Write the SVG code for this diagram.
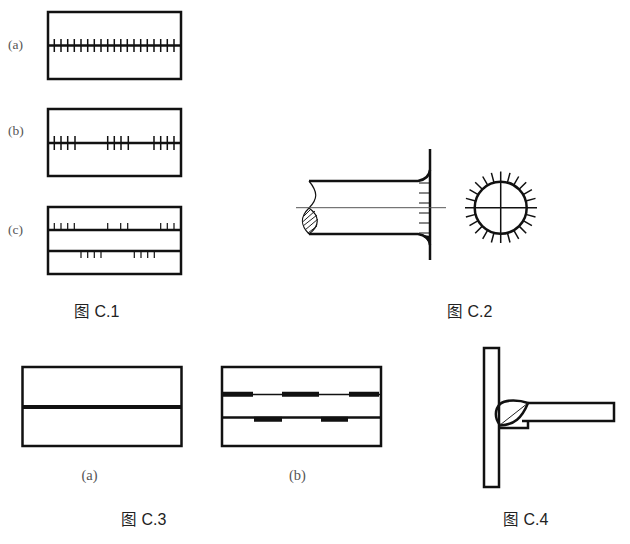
<svg xmlns="http://www.w3.org/2000/svg" width="630" height="544" viewBox="0 0 630 544">
<defs>
<style>
.o{fill:none;stroke:#111;stroke-width:2.500}
.k{fill:none;stroke:#111;stroke-width:1.200}
.t{fill:none;stroke:#222;stroke-width:1}
.m{fill:none;stroke:#111;stroke-width:1.500}
.lab{font-family:"Liberation Serif",serif;font-size:13.500px;fill:#555}
.lab2{font-family:"Liberation Serif",serif;font-size:14.500px;fill:#555}
.cap{font-family:"Noto Sans CJK SC","Liberation Sans",sans-serif;font-size:15.500px;fill:#222}
.num{font-family:"Liberation Sans",sans-serif;font-size:16px;fill:#222}
</style>
<path id="spokes" class="m" d="M25.100 6.700L34.800 9.300M22.500 13L31.200 18M18.400 18.400L25.500 25.500M13 22.500L18 31.200M6.700 25.100L9.300 34.800"/>
</defs>
<rect width="630" height="544" fill="#fff"/>

<g id="fig-c1-a">
<text class="lab" x="8" y="49">(a)</text>
<rect class="o" x="48" y="12" width="133" height="67"/>
<path class="o" d="M48 45.500H181"/>
<path class="m" d="M54.300 39V52M61 39V52M67.700 39V52M74.300 39V52M81 39V52M87.700 39V52M94.300 39V52M101 39V52M107.700 39V52M114.300 39V52M120.800 39V52M127.300 39V52M134 39V52M140.700 39V52M147.300 39V52M154 39V52M160.700 39V52M167.300 39V52M174 39V52"/>
</g>

<g id="fig-c1-b">
<text class="lab" x="8" y="135">(b)</text>
<rect class="o" x="48" y="109" width="133" height="67"/>
<path class="o" d="M48 143H181"/>
<path class="m" d="M54.300 136V150M61 136V150M67.700 136V150M75 136V150M107.700 136V150M114.300 136V150M121 136V150M128.300 136V150M154 136V150M160.700 136V150M167.300 136V150M174 136V150"/>
</g>

<g id="fig-c1-c">
<text class="lab" x="8" y="234">(c)</text>
<rect class="o" x="48" y="207" width="133" height="67"/>
<path class="o" d="M48 230H181M48 251H181"/>
<path class="k" d="M54.300 223V230M61 223V230M67.700 223V230M74.300 223V230M107.700 223V230M120.700 223V230M127.700 223V230M160.700 223V230M167.300 223V230M174 223V230M81 251V258M87.700 251V258M94.300 251V258M101 251V258M134.300 251V258M141 251V258M147.700 251V258M154.300 251V258"/>
</g>
<g id="caption-c1"><text class="cap" x="74" y="317">图</text><text class="num" x="94.500" y="317">C.1</text></g>

<g id="fig-c2-side">
<path class="o" d="M309 181H418Q429 179 430 170M309 234H418Q429 236 430 245"/>
<path class="o" d="M430 149V260"/>
<path d="M418 234Q427 237 430 245V236Z" fill="#111"/>
<path class="k" d="M309 181C318 192 318 199 309 208C300 217 300 225 309 234M309 208C320 216 320 226 309 234"/>
<path class="t" d="M304 216L311 209M302.500 222L315 211M303 226L317 215M305 230L318 219M308 233L317 226"/>
<path class="k" d="M419 183H430M419 193H430M419 203H430M419 213H430M419 223H430M419 233H430"/>
<path d="M296 207.700H446" fill="none" stroke="#555" stroke-width="1"/>
</g>

<g id="fig-c2-end">
<circle class="o" cx="500.700" cy="207.700" r="26"/>
<path class="m" d="M465 207.700H537M500.700 171.500V243"/>
<use href="#spokes" transform="translate(500.700 207.700)"/>
<use href="#spokes" transform="translate(500.700 207.700) scale(-1 1)"/>
<use href="#spokes" transform="translate(500.700 207.700) scale(1 -1)"/>
<use href="#spokes" transform="translate(500.700 207.700) scale(-1 -1)"/>
</g>
<g id="caption-c2"><text class="cap" x="447" y="317">图</text><text class="num" x="467.500" y="317">C.2</text></g>

<g id="fig-c3-a">
<rect class="o" x="22.500" y="367" width="159" height="79"/>
<path d="M22 407H181" fill="none" stroke="#111" stroke-width="4"/>
<text class="lab2" x="81.500" y="480">(a)</text>
</g>

<g id="fig-c3-b">
<rect class="o" x="222" y="367" width="159" height="79"/>
<path class="m" d="M222 394.500H381"/>
<path class="o" d="M222 417.500H381"/>
<path d="M223 394.200H253M282 394.200H319M349 394.200H379M254 419.300H282M321 419.300H348" fill="none" stroke="#111" stroke-width="5"/>
<text class="lab2" x="289" y="480">(b)</text>
</g>
<g id="caption-c3"><text class="cap" x="121" y="525">图</text><text class="num" x="141.500" y="525">C.3</text></g>

<g id="fig-c4">
<rect class="o" x="484" y="348" width="15" height="139"/>
<path class="o" d="M528 403H614V421H522"/>
<path class="o" d="M528 403C520 400 506 399 500 404C495 409 494 418 500 425"/>
<path class="o" d="M500 425.500C514 425 522 418 528 403"/>
<path class="t" d="M500 425L528 403"/>
<path class="o" d="M499 428H528V421"/>
</g>
<g id="caption-c4"><text class="cap" x="503" y="525">图</text><text class="num" x="523.500" y="525">C.4</text></g>
</svg>
